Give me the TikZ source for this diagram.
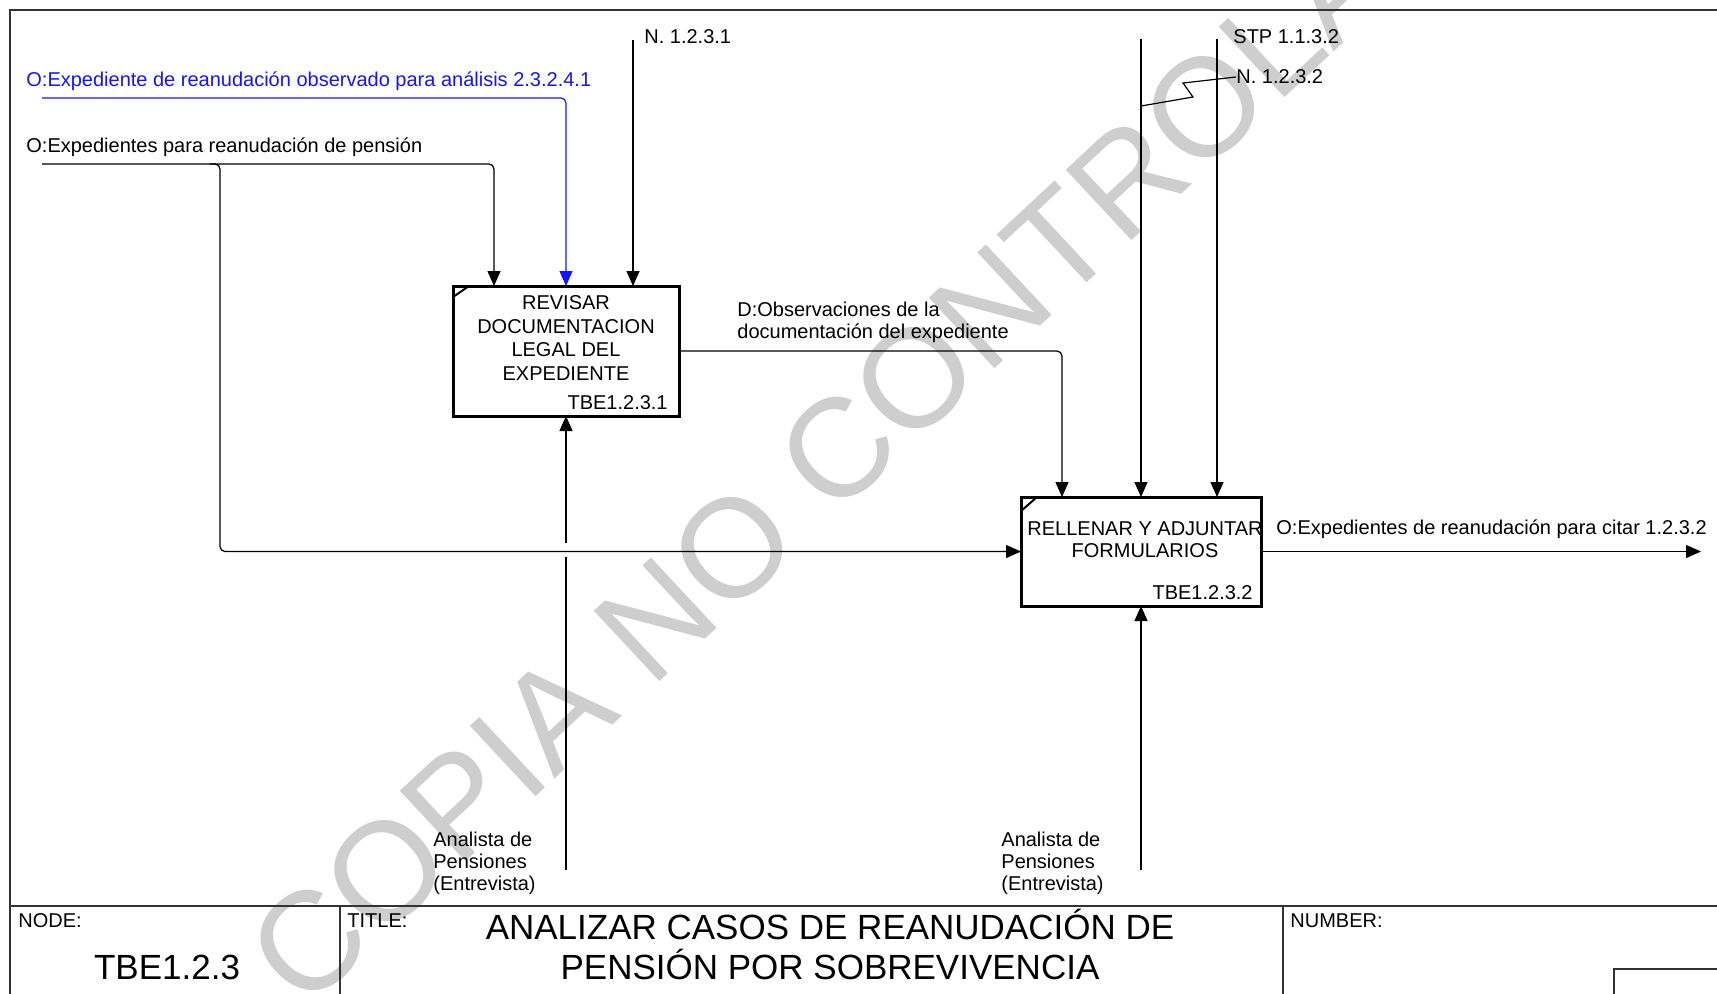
\documentclass[tikz,border=0pt]{standalone}
\usepackage{fontspec}
\setmainfont{Liberation Sans}
\usetikzlibrary{arrows.meta,calc}
\definecolor{wm}{RGB}{206,206,206}
\definecolor{idefblue}{RGB}{20,20,255}
\tikzset{
  lbl/.style={inner sep=0pt, anchor=west, font=\fontsize{10}{11}\selectfont, align=left},
  boxtxt/.style={inner sep=0pt, align=center, font=\fontsize{10}{11.7}\selectfont},
  bigtxt/.style={inner sep=0pt, align=center, font=\fontsize{17.5}{20}\selectfont},
  proc/.style={draw, line width=1.5pt, inner sep=0pt, outer sep=0pt, fill=white},
  arr/.style={line width=0.6pt, -{Triangle[length=7.5pt,width=6.5pt]}, rounded corners=2.5pt},
  ln/.style={line width=0.6pt, rounded corners=2.5pt},
  framel/.style={line width=1pt, draw=black!80},
  wmark/.style={rotate=43, anchor=base west, inner sep=0pt, text=wm, font=\fontsize{70}{84}\selectfont}
}
\begin{document}
\begin{tikzpicture}[x=0.5pt,y=-0.5pt]
\useasboundingbox (0,0) rectangle (1717,993);
\clip (0,0) rectangle (1717,993);
\fill[white] (0,0) rectangle (1717,993);
% watermark
\node[wmark] (wmk) at (304,1013) {COPIA NO CONTROLADA};
% frame
\draw[framel] (10,1100) -- (10,10) -- (1800,10);
\draw[framel] (10,906) -- (1800,906);
\draw[framel] (340,906) -- (340,1100);
\draw[framel] (1283,906) -- (1283,1100);
\draw[framel] (1614,1100) -- (1614,969) -- (1800,969);
% boxes
\node[proc, minimum width=113pt, minimum height=65pt] (b1) at (566,351) {};
\node[proc, minimum width=120pt, minimum height=54.5pt] (b2) at (1141,551.5) {};
\draw[line width=1pt] ($(b1.north west)+(0,11)$) -- ($(b1.north west)+(16,0)$);
\draw[line width=1pt] ($(b2.north west)+(0,14)$) -- ($(b2.north west)+(16,0)$);
\node[boxtxt] (b1t) at (566,338) {REVISAR\\DOCUMENTACION\\LEGAL DEL\\EXPEDIENTE};
\node[lbl, anchor=east] (b1id) at (668,403) {TBE1.2.3.1};
\node[boxtxt, font=\fontsize{10}{11}\selectfont] (b2t) at (1145,540) {RELLENAR Y ADJUNTAR\\FORMULARIOS};
\node[lbl, anchor=east] (b2id) at (1253,593) {TBE1.2.3.2};
% box 1 controls and inputs
\coordinate (c1top) at (633,40);
\draw[arr] (c1top) -- (c1top |- b1.north);
\node[lbl] (lc1) at (644,37) {N. 1.2.3.1};
\coordinate (blueS) at (42,98);
\draw[arr, draw=idefblue] (blueS) -| (b1.north);
\node[lbl, text=idefblue] (lblue) at (26,81) {O:Expediente de reanudación observado para análisis 2.3.2.4.1};
\coordinate (inS) at (42,164);
\draw[arr] (inS) -| ($(b1.north west)+(41,0)$);
\node[lbl] (lin) at (26,147) {O:Expedientes para reanudación de pensión};
\coordinate (brA) at (210,164);
\draw[arr] (brA) -- ++(10,0) |- (b2.west);
% box 1 mechanism (broken at crossing)
\coordinate (m1) at (566,870);
\coordinate (g1lo) at (566,557);
\coordinate (g1hi) at (566,543);
\draw[ln] (m1) -- (g1lo);
\draw[arr] (g1hi) -- (b1.south);
\node[lbl] (lm1) at (433,863) {Analista de\\Pensiones\\(Entrevista)};
% box 1 output
\draw[arr] (b1.east) -| ($(b2.north west)+(41,0)$);
\node[lbl] (lobs) at (737,322) {D:Observaciones de la\\documentación del expediente};
% box 2 controls
\coordinate (c2top) at (1141,39);
\draw[arr] (c2top) -- (b2.north);
\coordinate (c3top) at (1217,39);
\draw[arr] (c3top) -- (c3top |- b2.north);
\node[lbl] (lstp) at (1233,37) {STP 1.1.3.2};
\node[lbl] (lc3) at (1236,77) {N. 1.2.3.2};
\coordinate (sq) at (1141,106);
\draw[line width=0.6pt] (lc3.west) -- (1183,83) -- (1193,97) -- (sq);
% box 2 mechanism
\coordinate (m2) at (1141,870);
\draw[arr] (m2) -- (b2.south);
\node[lbl] (lm2) at (1001,863) {Analista de\\Pensiones\\(Entrevista)};
% box 2 output
\coordinate (outE) at (1701,550);
\draw[arr] (b2.east) -- (outE |- b2.east);
\node[lbl] (lout) at (1276,529) {O:Expedientes de reanudación para citar 1.2.3.2};
% title block
\node[lbl] (nodel) at (18,921) {NODE:};
\node[bigtxt] (nodev) at (167,967) {TBE1.2.3};
\node[lbl] (titlel) at (347,921) {TITLE:};
\node[bigtxt] (titlev) at (830,944) {ANALIZAR CASOS DE REANUDACIÓN DE\\PENSIÓN POR SOBREVIVENCIA};
\node[lbl] (numl) at (1290,921) {NUMBER:};
\end{tikzpicture}
\end{document}
